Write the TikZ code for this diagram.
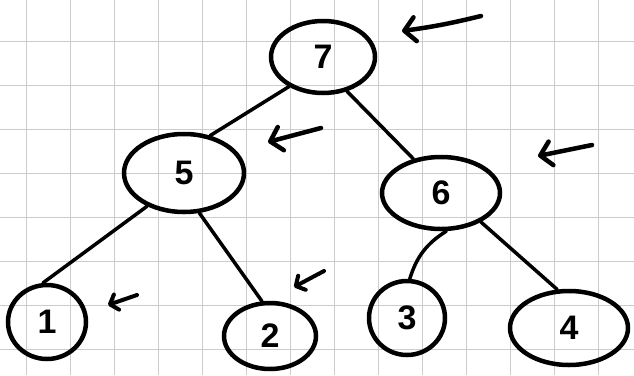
\documentclass[tikz,border=0pt]{standalone}
\usepackage{fontspec}
\setmainfont{Liberation Sans}
\usetikzlibrary{shapes.geometric,arrows.meta}
\begin{document}
\begin{tikzpicture}[x=1pt,y=-1pt,
  gridline/.style={draw=black!20, line width=1pt},
  tnode/.style={ellipse, draw=black, line width=4.5pt, inner sep=0pt, font=\fontsize{34}{34}\selectfont\bfseries},
  edge/.style={draw=black, line width=3.5pt, line cap=round},
  pointer/.style={draw=black, line width=4.5pt, line cap=round, -{Straight Barb[length=11pt,width=24pt,round]}},
  smallpointer/.style={draw=black, line width=4pt, line cap=round, -{Straight Barb[length=7pt,width=16pt,round]}}
]
\fill[white] (0,0) rectangle (634,375);
\useasboundingbox (0,0) rectangle (634,375);
\foreach \i in {0,...,13} {\draw[gridline] ({26.7+44*\i},0) -- ({26.7+44*\i},375);}
\foreach \j in {0,...,7} {\draw[gridline] (0,{41.3+44*\j}) -- (634,{41.3+44*\j});}

\node[tnode, minimum width=104pt, minimum height=72pt] (n7) at (323,57) {7};
\node[tnode, minimum width=120pt, minimum height=78pt] (n5) at (184,173) {5};
\node[tnode, minimum width=118pt, minimum height=72pt] (n6) at (441,193) {6};
\node[tnode, minimum width=78pt, minimum height=74pt] (n1) at (47,322) {1};
\node[tnode, minimum width=92pt, minimum height=66pt] (n2) at (270,336) {2};
\node[tnode, minimum width=76pt, minimum height=74pt] (n3) at (407,318) {3};
\node[tnode, minimum width=118pt, minimum height=74pt] (n4) at (569,328) {4};

\draw[edge] (n7.221) -- (n5.55);
\draw[edge] (n7.305) -- (n6.129);
\draw[edge] (n5.222) -- (n1.96);
\draw[edge] (n5.291) -- (n2.103);
\draw[edge] (n6.278) to[bend right=20] (n3.86);
\draw[edge] (n6.324) -- (n4.107);

\coordinate (p7s) at (481,16);  \coordinate (p7e) at (402,31);
\coordinate (p5s) at (321,128); \coordinate (p5e) at (268,142);
\coordinate (p6s) at (592,145); \coordinate (p6e) at (538,156);
\coordinate (p1s) at (137,295); \coordinate (p1e) at (108,305);
\coordinate (p2s) at (324,271); \coordinate (p2e) at (294,287);
\draw[pointer] (p7s) to[bend left=3] (p7e);
\draw[pointer] (p5s) -- (p5e);
\draw[pointer] (p6s) -- (p6e);
\draw[smallpointer] (p1s) -- (p1e);
\draw[smallpointer] (p2s) -- (p2e);
\end{tikzpicture}
\end{document}
